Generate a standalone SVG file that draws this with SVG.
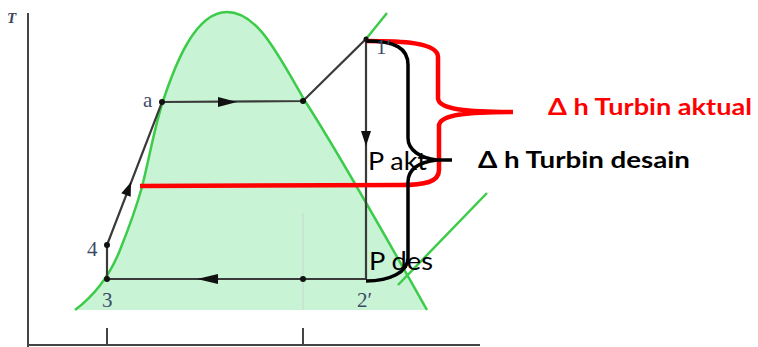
<svg xmlns="http://www.w3.org/2000/svg" width="758" height="347" viewBox="0 0 758 347">
<style>
.axis{stroke:#444;stroke-width:2;fill:none}
.cyc{stroke:#3a3a3a;stroke-width:2.2;fill:none}
.arr{fill:#111}
.dot{fill:#111}
.green{stroke:#3ccc4a;stroke-width:2.5;fill:none}
.lbl{font-family:"Liberation Serif",serif;font-size:21px;fill:#3d4a66}
.big{font-family:Lato,"Liberation Sans",sans-serif;font-size:25px;fill:#000}
.bold{font-family:Lato,"Liberation Sans",sans-serif;font-size:23px;font-weight:bold}
</style>
<rect width="758" height="347" fill="#fff"/>
<g id="axes">
<path class="axis" d="M28,13 L28,347 M28,345 L480,345 M107,328 L107,345 M303,328 L303,345"/>
<text x="7" y="23" font-family="Liberation Serif,serif" font-style="italic" font-weight="bold" font-size="15" fill="#3a4560">T</text>
</g>
<g id="dome">
<path d="M75,310 C95,295 110,275 120,250 C130,225 137,205 142,187 C150,155 155,125 163,101 C175,65 195,12 227,12 C258,12 278,55 305,101 C340,155 400,262 427,310 Z" fill="#c8f3d5"/>
<path class="green" d="M75,310 C95,295 110,275 120,250 C130,225 137,205 142,187 C150,155 155,125 163,101 C175,65 195,12 227,12 C258,12 278,55 305,101 C340,155 400,262 427,310"/>
<path class="green" stroke-width="2" d="M366,39 L387,13 M398,285 L487,193"/>
<line x1="303" y1="213" x2="303" y2="310" stroke="#c9d6cc" stroke-width="1"/>
</g>
<g id="connectors">
<path class="cyc" d="M107,279 L107,245 L162,102 L303,101 L366,39 L366,279 L107,279"/>
<polygon class="arr" points="218,97 237,102 218,107"/>
<polygon class="arr" points="197,279 218,274 218,284"/>
<polygon class="arr" points="361,131 371,131 366,146"/>
<polygon class="arr" points="131,182 130.7,196.8 121.3,193.2"/>
</g>
<g id="texts">
<text class="big" x="368" y="170" textLength="59" lengthAdjust="spacingAndGlyphs">P akt</text>
<text class="big" x="369" y="270" textLength="64" lengthAdjust="spacingAndGlyphs">P des</text>
</g>
<g id="brace-aktual">
<path fill="none" stroke="#ff0000" stroke-width="4.5" stroke-linejoin="round" d="M366,41 C400,41 438,42 438,57 L438,98 C438,110 470,112 513,112 M513,112 C470,112 439,114 439,126 L439,170 C439,182 425,185 400,185 L140,186"/>
<text class="bold" x="548" y="115" fill="#ff0000" textLength="204" lengthAdjust="spacingAndGlyphs">Δ h Turbin aktual</text>
</g>
<g id="brace-desain">
<path fill="none" stroke="#000" stroke-width="3.5" d="M366,41 C395,41 408,48 408,65 L408,138 C408,150 420,158 437,160 L452,160 M437,160 C420,162 408,168 408,182 L408,258 C408,272 390,281 366,281"/>
<text class="bold" x="478" y="168" fill="#000" textLength="212" lengthAdjust="spacingAndGlyphs">Δ h Turbin desain</text>
</g>
<g id="node-a"><circle class="dot" cx="162" cy="102" r="3"/><text class="lbl" x="143" y="107">a</text></g>
<g id="node-b"><circle class="dot" cx="303" cy="101" r="3"/></g>
<g id="node-1"><circle class="dot" cx="366" cy="39" r="2.5"/><text class="lbl" x="376" y="54" fill="#55709a">1′</text></g>
<g id="node-4"><circle class="dot" cx="107" cy="245" r="3"/><text class="lbl" x="87" y="256" fill="#3d6aa0">4</text></g>
<g id="node-3"><circle class="dot" cx="107" cy="279" r="3"/><text class="lbl" x="102" y="307">3</text></g>
<g id="node-c"><circle class="dot" cx="303" cy="279" r="3"/></g>
<g id="node-2"><text class="lbl" x="357" y="307">2′</text></g>
</svg>
